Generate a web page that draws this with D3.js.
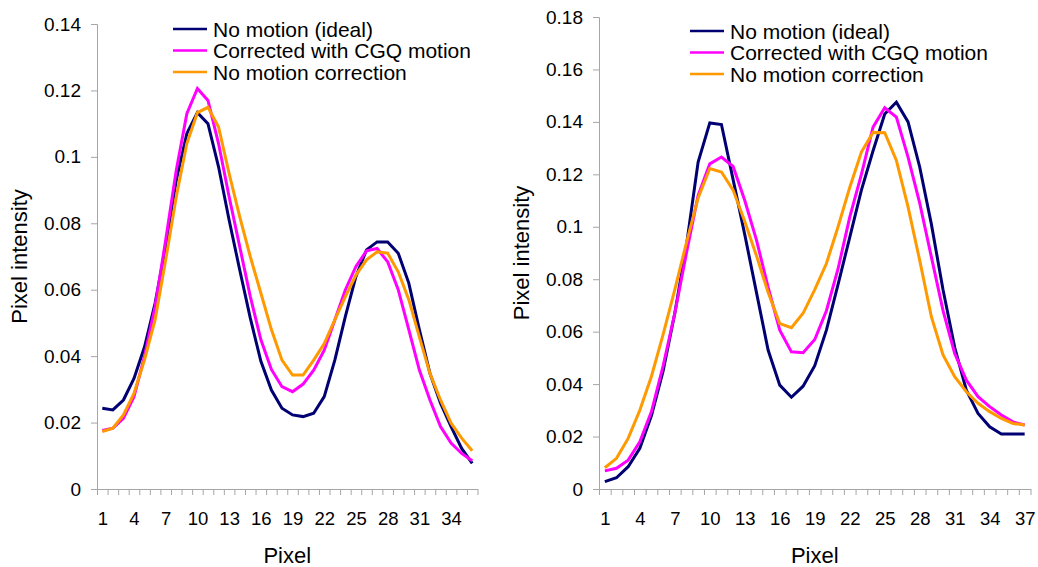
<!DOCTYPE html>
<html>
<head>
<meta charset="utf-8">
<script src="https://cdn.jsdelivr.net/npm/d3@7"></script>
<style>
  body { margin: 0; background: #fff; }
  text { font-family: "Liberation Sans", Arial, sans-serif; fill: #000; }
</style>
</head>
<body>
<svg id="chart" width="1038" height="567"></svg>
<script>
// Series names (legend order)
const seriesNames = ["No motion (ideal)", "Corrected with CGQ motion", "No motion correction"];
const seriesColors = ["#000073", "#ff00ff", "#ff9900"];

// Left panel: 36 pixels
const leftIdeal = [0.0243, 0.0238, 0.0268, 0.0333, 0.0428, 0.0560, 0.0730, 0.0930, 0.1070, 0.1133,
  0.1100, 0.0970, 0.0810, 0.0660, 0.0515, 0.0385, 0.0298, 0.0243, 0.0223, 0.0218,
  0.0228, 0.0278, 0.0388, 0.0520, 0.0640, 0.0720, 0.0744, 0.0744, 0.0710, 0.0620,
  0.0480, 0.0348, 0.0258, 0.0188, 0.0122, 0.0077];
const leftCorrected = [0.0176, 0.0183, 0.0213, 0.0278, 0.0400, 0.0550, 0.0750, 0.0960, 0.1130, 0.1206,
  0.1170, 0.1040, 0.0880, 0.0730, 0.0580, 0.0450, 0.0360, 0.0308, 0.0293, 0.0316,
  0.0358, 0.0418, 0.0509, 0.0600, 0.0670, 0.0717, 0.0724, 0.0684, 0.0600, 0.0480,
  0.0358, 0.0268, 0.0188, 0.0138, 0.0107, 0.0085];
const leftUncorrected = [0.0173, 0.0183, 0.0223, 0.0288, 0.0390, 0.0510, 0.0690, 0.0880, 0.1040, 0.1133,
  0.1149, 0.1090, 0.0950, 0.0820, 0.0700, 0.0590, 0.0480, 0.0388, 0.0343, 0.0343,
  0.0388, 0.0438, 0.0509, 0.0579, 0.0644, 0.0690, 0.0714, 0.0710, 0.0654, 0.0570,
  0.0458, 0.0348, 0.0268, 0.0198, 0.0153, 0.0115];

// Right panel: 37 pixels
const rightIdeal = [0.0028, 0.0043, 0.0085, 0.0155, 0.0280, 0.0450, 0.0670, 0.0930, 0.1247, 0.1396,
  0.1390, 0.1180, 0.0970, 0.0750, 0.0530, 0.0396, 0.0350, 0.0392, 0.0470, 0.0606,
  0.0780, 0.0960, 0.1140, 0.1290, 0.1430, 0.1475, 0.1400, 0.1228, 0.1010, 0.0760,
  0.0540, 0.0377, 0.0288, 0.0237, 0.0210, 0.0210, 0.0210];
const rightCorrected = [0.0069, 0.0079, 0.0110, 0.0180, 0.0295, 0.0470, 0.0670, 0.0900, 0.1120, 0.1240,
  0.1266, 0.1230, 0.1100, 0.0950, 0.0770, 0.0606, 0.0523, 0.0520, 0.0570, 0.0680,
  0.0840, 0.1037, 0.1200, 0.1380, 0.1454, 0.1418, 0.1266, 0.1090, 0.0885, 0.0680,
  0.0517, 0.0415, 0.0352, 0.0314, 0.0282, 0.0256, 0.0244];
const rightUncorrected = [0.0081, 0.0117, 0.0193, 0.0300, 0.0430, 0.0590, 0.0760, 0.0940, 0.1110, 0.1222,
  0.1209, 0.1140, 0.1020, 0.0890, 0.0750, 0.0631, 0.0615, 0.0670, 0.0760, 0.0860,
  0.1000, 0.1150, 0.1285, 0.1360, 0.1359, 0.1253, 0.1076, 0.0872, 0.0657, 0.0511,
  0.0428, 0.0371, 0.0327, 0.0295, 0.0269, 0.0250, 0.0244];

// Y tick values
const leftYTicks = [0, 0.02, 0.04, 0.06, 0.08, 0.1, 0.12, 0.14];
const rightYTicks = [0, 0.02, 0.04, 0.06, 0.08, 0.1, 0.12, 0.14, 0.16, 0.18];

const svg = d3.select("#chart");
const axisColor = "#a6a6a6";

function drawPanel(cfg) {
    const n = cfg.series[0].length;
    const g = svg.append("g");

    // Category axis, points sit between tick marks
    const xScale = d3.scaleLinear()
        .domain([0.5, n + 0.5])
        .range([cfg.left, cfg.right]);
    const yScale = d3.scaleLinear()
        .domain([0, cfg.yMax])
        .range([cfg.bottom, cfg.top]);

    // Y axis
    const yAxis = g.append("g")
        .attr("transform", "translate(" + cfg.left + ",0)")
        .call(d3.axisLeft(yScale)
            .tickValues(cfg.yTicks)
            .tickFormat(d => d === 0 ? "0" : String(+d.toFixed(2)))
            .tickSize(6)
            .tickPadding(10));
    yAxis.select(".domain").attr("stroke", axisColor);
    yAxis.selectAll(".tick line").attr("stroke", axisColor);
    yAxis.selectAll(".tick text").style("font-size", "19px").attr("fill", "#000");

    // X axis: tick marks at category boundaries
    const boundaries = d3.range(0, n + 1).map(i => i + 0.5);
    const xAxis = g.append("g")
        .attr("transform", "translate(0," + cfg.bottom + ")")
        .call(d3.axisBottom(xScale).tickValues(boundaries).tickFormat("").tickSize(6).tickSizeOuter(0));
    xAxis.select(".domain").attr("stroke", axisColor);
    xAxis.selectAll(".tick line").attr("stroke", axisColor);

    // X labels every 3rd pixel
    const labelVals = d3.range(1, n + 1, 3);
    const xLabels = g.append("g")
        .attr("transform", "translate(0," + cfg.bottom + ")")
        .call(d3.axisBottom(xScale).tickValues(labelVals).tickFormat(d3.format("d")).tickSize(0).tickPadding(23));
    xLabels.select(".domain").remove();
    xLabels.selectAll(".tick text").style("font-size", "18.5px").attr("fill", "#000");

    // Lines
    const line = d3.line()
        .x((d, i) => xScale(i + 1))
        .y(d => yScale(d));
    cfg.series.forEach((s, k) => {
        g.append("path")
            .datum(s)
            .attr("fill", "none")
            .attr("stroke", seriesColors[k])
            .attr("stroke-width", 3)
            .attr("stroke-linejoin", "miter")
            .attr("d", line);
    });

    // Axis titles
    g.append("text")
        .attr("x", (cfg.left + cfg.right) / 2)
        .attr("y", 563)
        .attr("text-anchor", "middle")
        .style("font-size", "22px")
        .text("Pixel");
    g.append("text")
        .attr("transform", "translate(" + cfg.yTitleX + "," + ((cfg.top + cfg.bottom) / 2) + ") rotate(-90)")
        .attr("text-anchor", "middle")
        .style("font-size", "22px")
        .text("Pixel intensity");

    // Legend
    const legend = g.append("g").attr("transform", "translate(" + cfg.legendX + "," + cfg.legendY + ")");
    seriesNames.forEach((name, k) => {
        const row = legend.append("g").attr("transform", "translate(0," + (k * 21.5) + ")");
        row.append("line")
            .attr("x1", 0).attr("x2", 34)
            .attr("y1", 0).attr("y2", 0)
            .attr("stroke", seriesColors[k])
            .attr("stroke-width", 2.5);
        row.append("text")
            .attr("x", 40)
            .attr("y", 7.5)
            .style("font-size", "21px")
            .text(name);
    });
}

drawPanel({
    series: [leftIdeal, leftCorrected, leftUncorrected],
    left: 97, right: 477.5, top: 24, bottom: 489,
    yMax: 0.14, yTicks: leftYTicks, yTitleX: 27,
    legendX: 173, legendY: 29
});

drawPanel({
    series: [rightIdeal, rightCorrected, rightUncorrected],
    left: 599, right: 1030.5, top: 17, bottom: 489,
    yMax: 0.18, yTicks: rightYTicks, yTitleX: 529,
    legendX: 690, legendY: 31
});
</script>
</body>
</html>
